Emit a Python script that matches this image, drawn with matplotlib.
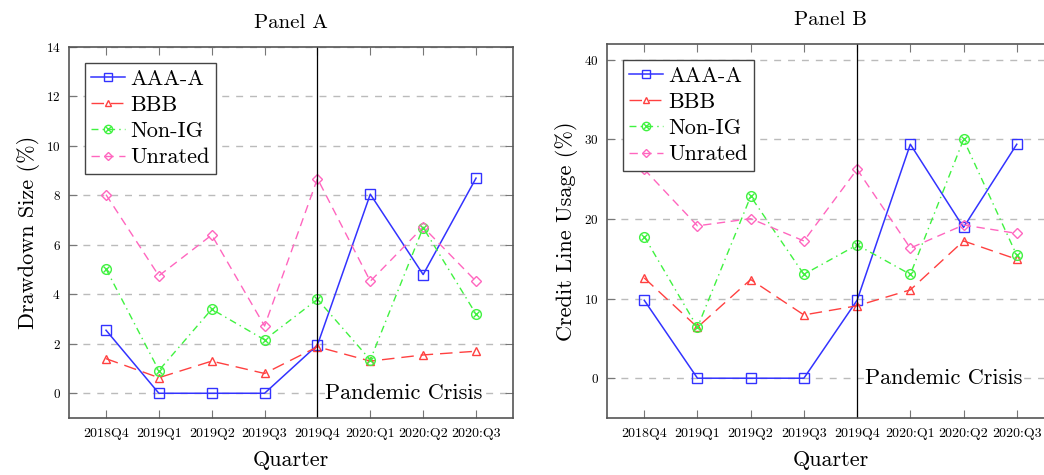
import matplotlib
matplotlib.use("Agg")
import matplotlib.pyplot as plt
from matplotlib.lines import Line2D
from matplotlib.legend_handler import HandlerTuple

plt.rcParams['font.family'] = 'serif'
plt.rcParams['font.serif'] = ['cmr10', 'DejaVu Serif']
plt.rcParams['mathtext.fontset'] = 'cm'
plt.rcParams['axes.formatter.use_mathtext'] = True

quarters = ["2018Q4", "2019Q1", "2019Q2", "2019Q3", "2019Q4", "2020:Q1", "2020:Q2", "2020:Q3"]
series_names = ["AAA-A", "BBB", "Non-IG", "Unrated"]

# Panel A: drawdown size (%)
a_aaa = [2.55, 0.0, 0.0, 0.0, 1.95, 8.05, 4.8, 8.7]
a_bbb = [1.4, 0.63, 1.3, 0.8, 1.88, 1.3, 1.55, 1.7]
a_nonig = [5.03, 0.92, 3.4, 2.16, 3.8, 1.35, 6.7, 3.2]
a_unrated = [8.03, 4.75, 6.4, 2.72, 8.68, 4.53, 6.72, 4.53]

# Panel B: credit line usage (%)
b_aaa = [9.8, 0.0, 0.0, 0.0, 9.8, 29.4, 18.95, 29.4]
b_bbb = [12.6, 6.4, 12.4, 7.95, 9.1, 11.1, 17.25, 14.95]
b_nonig = [17.8, 6.4, 22.85, 13.05, 16.75, 13.05, 30.0, 15.45]
b_unrated = [26.25, 19.15, 20.05, 17.25, 26.25, 16.35, 19.25, 18.2]

blue = (0.2, 0.2, 1.0)
red = (1.0, 0.25, 0.25)
green = (0.25, 0.95, 0.25)
pink = (1.0, 0.4, 0.75)

styles = [
    dict(color=blue, ls='-', marker='s', ms=7, lw=1.1),
    dict(color=red, ls=(0, (9, 5)), marker='^', ms=6, lw=1.0),
    dict(color=green, ls=(0, (5, 3, 1, 3)), marker='o', ms=7, lw=1.0),
    dict(color=pink, ls=(0, (6, 4)), marker='D', ms=5, lw=1.0),
]


def draw_panel(ax, data, title, ylabel, ylim, yticks):
    x = range(len(quarters))
    handles = []
    for vals, st in zip(data, styles):
        ax.plot(x, vals, color=st['color'], ls=st['ls'], lw=st['lw'],
                marker=st['marker'], ms=st['ms'], mfc='none', mec=st['color'], mew=1.0)
        h = Line2D([], [], color=st['color'], ls=st['ls'], lw=st['lw'],
                   marker=st['marker'], ms=st['ms'] - 1, mfc='none', mec=st['color'])
        if st['marker'] == 'o':
            hx = Line2D([], [], color=st['color'], ls='none', marker='x',
                        ms=st['ms'] - 3, mec=st['color'])
            h = (h, hx)
        handles.append(h)
    # the x inside the Non-IG circles
    ax.plot(x, data[2], ls='none', marker='x', ms=4, mec=green, mew=1.0)

    ax.axvline(4, color='black', lw=0.9)
    ax.text(4.15, yticks[0], "Pandemic Crisis", fontsize=16, va='center', ha='left',
            bbox=dict(fc='white', ec='none', pad=0.5))
    ax.set_xlim(-0.7, 7.7)
    ax.set_ylim(*ylim)
    ax.set_xticks(list(x))
    ax.set_xticklabels(quarters, fontsize=10)
    ax.set_yticks(yticks)
    ax.tick_params(axis='y', labelsize=9.5, pad=6)
    ax.tick_params(axis='x', pad=7)
    ax.tick_params(direction='in', length=6, color='#777777', top=True, right=True)
    ax.grid(axis='y', ls=(0, (5, 5)), color='#bbbbbb', lw=1.0)
    ax.set_axisbelow(True)
    for s in ax.spines.values():
        s.set_color('#555555')
        s.set_linewidth(1.2)
    ax.set_title(title, fontsize=15, pad=14)
    ax.set_xlabel("Quarter", fontsize=16, labelpad=8)
    ax.set_ylabel(ylabel, fontsize=16)
    ax.legend(handles, series_names, loc='upper left', fontsize=16,
              handler_map={tuple: HandlerTuple(ndivide=1)},
              frameon=True, fancybox=False, edgecolor='#444444', framealpha=1,
              borderpad=0.3, labelspacing=0.3, handlelength=1.5, handletextpad=0.25,
              borderaxespad=0.7)


fig = plt.figure(figsize=(10.44, 4.75), dpi=100)
ax1 = fig.add_axes([0.0661, 0.12, 0.4253, 0.781])
ax2 = fig.add_axes([0.5814, 0.12, 0.4282, 0.7874])

draw_panel(ax1, [a_aaa, a_bbb, a_nonig, a_unrated], "Panel A", "Drawdown Size (%)",
           (-1, 14), [0, 2, 4, 6, 8, 10, 12, 14])
draw_panel(ax2, [b_aaa, b_bbb, b_nonig, b_unrated], "Panel B", "Credit Line Usage (%)",
           (-5, 42), [0, 10, 20, 30, 40])

fig.savefig("out.png", dpi=100)
